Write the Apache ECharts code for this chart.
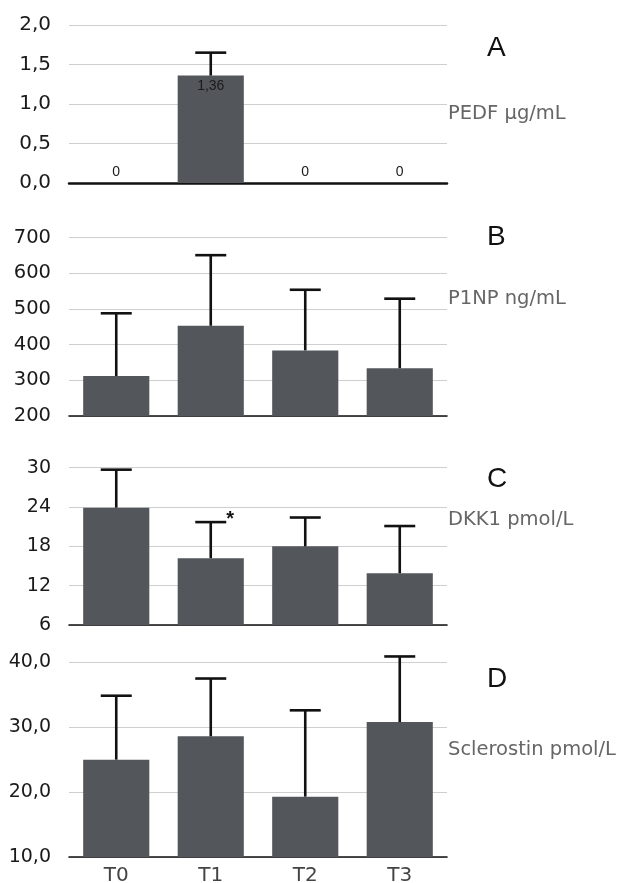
<!DOCTYPE html>
<html>
<head>
<meta charset="utf-8">
<script src="https://cdn.jsdelivr.net/npm/echarts@6/dist/echarts.min.js"></script>
<style>
html,body{margin:0;padding:0;background:#fff;}
#c{width:618px;height:883px;}
</style>
</head>
<body>
<div id="c"></div>
<script>
// ---- data ----
var categories = ['T0', 'T1', 'T2', 'T3'];

var pedfMean = [0, 1.36, 0, 0];
var pedfErr = [null, 1.65, null, null];

var p1npMean = [312, 453, 384, 334];
var p1npErr = [488, 651, 554, 529];

var dkk1Mean = [23.9, 16.2, 18.0, 13.9];
var dkk1Err = [29.7, 21.7, 22.4, 21.1];
var dkk1Sig = ['', '*', '', ''];

var sostMean = [25.0, 28.6, 19.3, 30.8];
var sostErr = [34.85, 37.5, 32.6, 40.9];

var panelLetters = ['A', 'B', 'C', 'D'];
var panelUnits = ['PEDF µg/mL', 'P1NP ng/mL', 'DKK1 pmol/L', 'Sclerostin pmol/L'];
var axisMin = [0, 200, 6, 10];
var axisMax = [2, 700, 30, 40];
var axisStep = [0.5, 100, 6, 10];
var axisDecimals = [1, 0, 0, 1];

// ---- layout ----
var FONT = 'Liberation Sans';
var WIDEFONT = 'DejaVu Sans';
var gridTops = [25, 237.7, 467.7, 662.3];
var gridHeights = [158, 178.3, 157.3, 194.7];
var labelSizes = [20, 19.5, 19, 19];
var letterY = [48, 237, 479, 679];
var unitY = [115, 300, 521, 751];

var means = [pedfMean, p1npMean, dkk1Mean, sostMean];
var errs = [pedfErr, p1npErr, dkk1Err, sostErr];
var sigs = [null, null, dkk1Sig, null];

function fmt(v, d) {
  return v.toFixed(d).replace('.', ',');
}

var grids = [], xAxes = [], yAxes = [], series = [], graphics = [];

for (var k = 0; k < 4; k++) {
  (function (k) {
    grids.push({left: 69, right: 171, top: gridTops[k], height: gridHeights[k],
      containLabel: false, outerBoundsMode: 'none'});
    xAxes.push({
      type: 'category', gridIndex: k, data: categories,
      axisTick: {show: false},
      axisLine: {show: true, lineStyle: {color: '#111', width: k === 0 ? 2.5 : 1.6}},
      axisLabel: {show: k === 3, color: '#444', fontSize: 20, fontFamily: WIDEFONT, margin: 9},
      splitLine: {show: false}
    });
    yAxes.push({
      type: 'value', gridIndex: k, min: axisMin[k], max: axisMax[k], interval: axisStep[k],
      axisLine: {show: false}, axisTick: {show: false},
      axisLabel: {color: '#1a1a1a', fontSize: labelSizes[k], fontFamily: WIDEFONT, margin: 18,
        formatter: function (v) { return fmt(v, axisDecimals[k]); }},
      splitLine: {show: true, lineStyle: {color: '#cfcfcf', width: 1.2}}
    });
    var barData = means[k].map(function (v, i) {
      var item = {value: v};
      if (k === 0) {
        item.label = {
          show: true,
          position: v === 0 ? 'top' : 'insideTop',
          distance: 4,
          color: '#1a1a1a', fontSize: 14, fontFamily: FONT,
          formatter: v === 0 ? '0' : fmt(v, 2)
        };
      }
      return item;
    });
    series.push({
      type: 'bar', xAxisIndex: k, yAxisIndex: k, data: barData,
      barCategoryGap: '30%',
      itemStyle: {color: '#53575c'},
      silent: true, z: 2
    });
    var errData = means[k].map(function (v, i) {
      return [i, v, errs[k][i] == null ? NaN : errs[k][i]];
    });
    series.push({
      type: 'custom', xAxisIndex: k, yAxisIndex: k, data: errData, clip: false, z: 5,
      renderItem: function (params, api) {
        var i = api.value(0), v = api.value(1), e = api.value(2);
        if (e == null || isNaN(e)) return;
        var p0 = api.coord([i, v]);
        var p1 = api.coord([i, e]);
        var hw = 15.5;
        var st = {stroke: '#111', lineWidth: 2.6};
        var children = [
          {type: 'line', shape: {x1: p0[0], y1: p0[1], x2: p0[0], y2: p1[1]}, style: st},
          {type: 'line', shape: {x1: p0[0] - hw, y1: p1[1], x2: p0[0] + hw, y2: p1[1]}, style: st}
        ];
        var s = sigs[k] ? sigs[k][params.dataIndex] : '';
        if (s) {
          children.push({type: 'text', style: {text: s, x: p0[0] + hw + 4, y: p1[1] - 3,
            align: 'center', verticalAlign: 'middle', fontSize: 20, fontWeight: 'bold',
            fontFamily: FONT, fill: '#111'}});
        }
        return {type: 'group', children: children};
      }
    });
    graphics.push({type: 'text', left: 487, top: letterY[k] - 14,
      style: {text: panelLetters[k], fontSize: 28, fontFamily: FONT, fill: '#111'}});
    graphics.push({type: 'text', left: 448, top: unitY[k] - 11,
      style: {text: panelUnits[k], fontSize: 19.5, fontFamily: WIDEFONT, fill: '#666'}});
  })(k);
}

var chart = echarts.init(document.getElementById('c'), null, {renderer: 'canvas'});
chart.setOption({
  animation: false,
  backgroundColor: '#fff',
  grid: grids, xAxis: xAxes, yAxis: yAxes, series: series, graphic: graphics
});
</script>
</body>
</html>
